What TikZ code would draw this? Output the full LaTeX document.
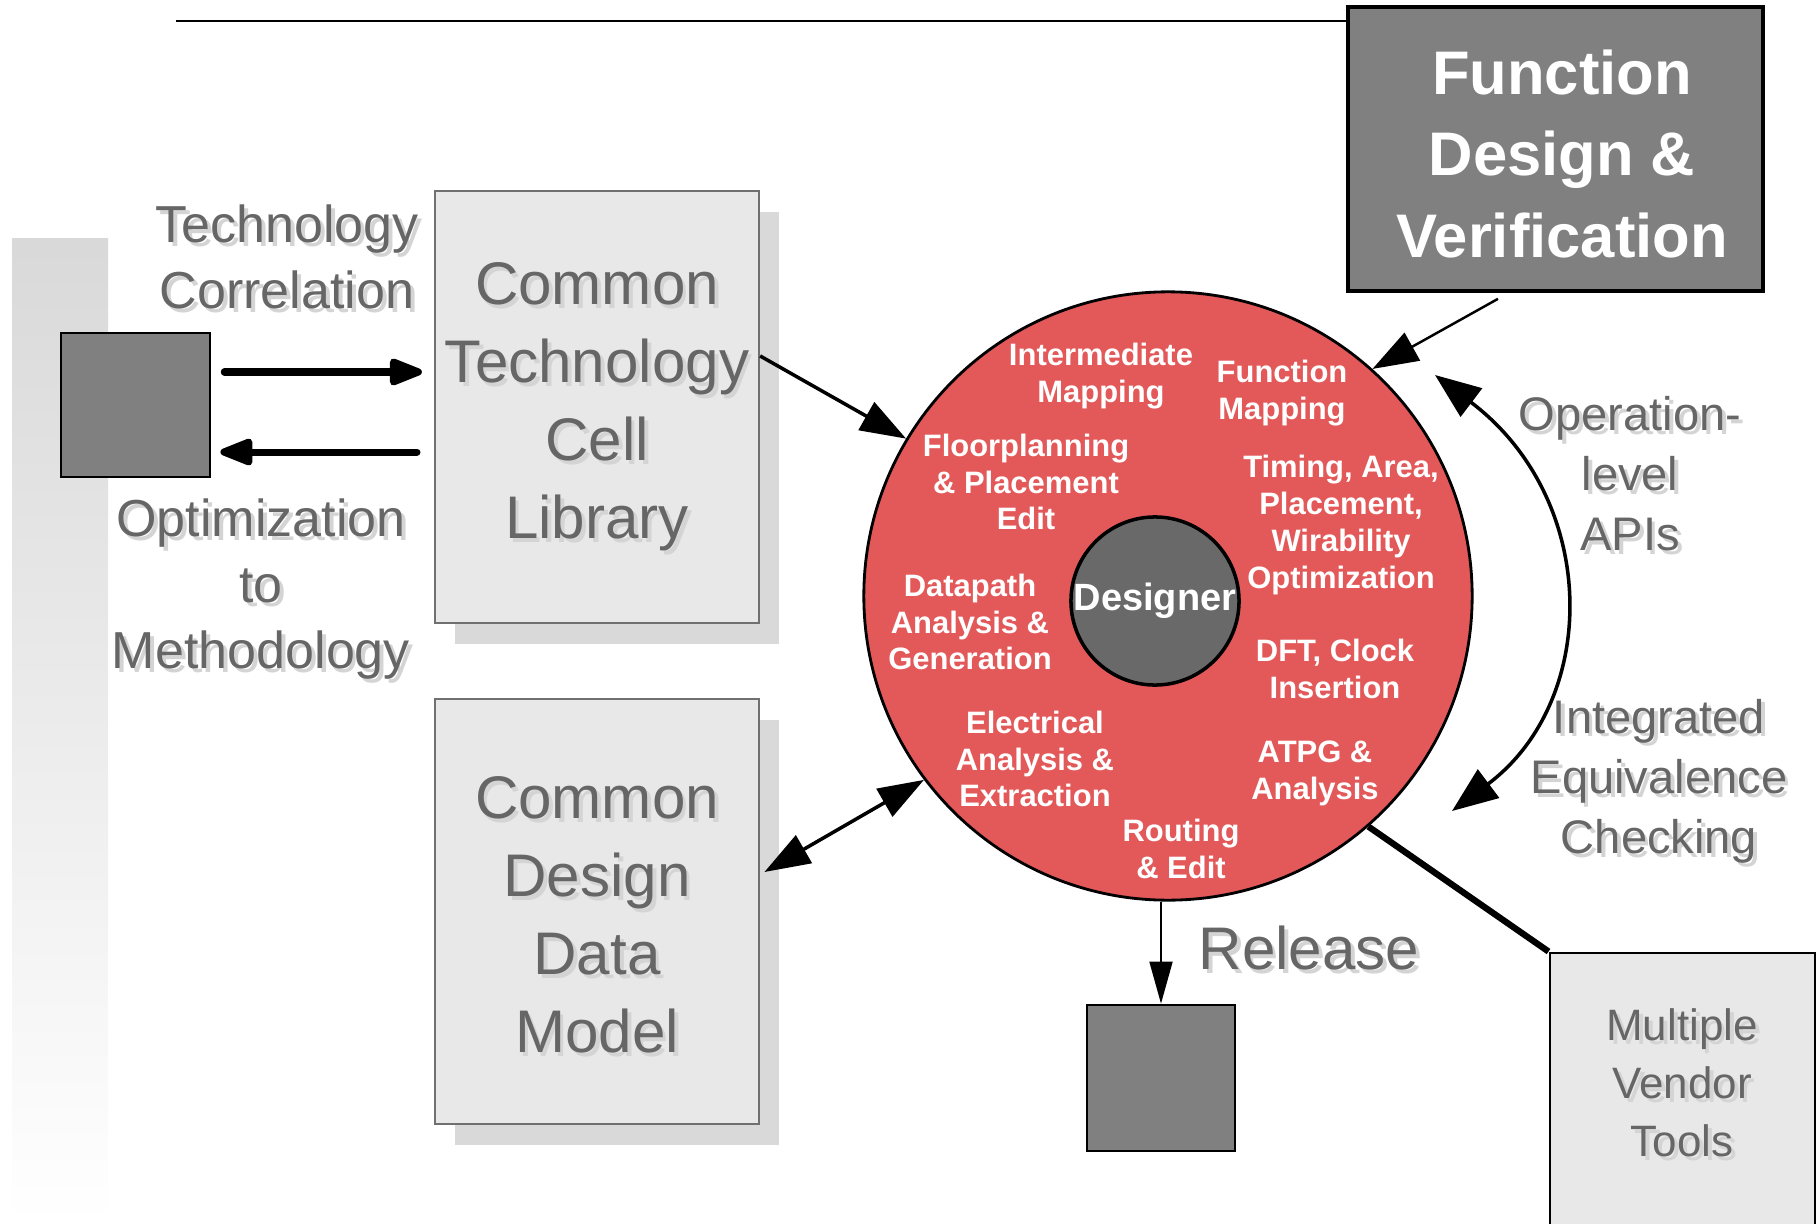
\documentclass[tikz,border=0pt]{standalone}
\usepackage{fontspec}
\setmainfont{Liberation Sans}
\usetikzlibrary{arrows.meta,shadows}

\definecolor{wheelred}{RGB}{227,89,89}
\definecolor{darkbox}{RGB}{128,128,128}
\definecolor{designgray}{RGB}{105,105,105}
\definecolor{boxfill}{RGB}{232,232,232}
\definecolor{boxshadow}{RGB}{217,217,217}
\definecolor{boxline}{RGB}{112,112,112}
\definecolor{txtgray}{RGB}{102,102,102}
\definecolor{txtshadow}{RGB}{212,212,212}

% gray text with a light offset copy behind it
\newcommand{\shadowlabel}[4]{%
  \node[glabel,#3,text=txtshadow,xshift=1.1pt,yshift=-1.1pt] at (#2) {#4};
  \node[glabel,#3] (#1) at (#2) {#4};}

\begin{document}
\begin{tikzpicture}[x=0.01cm, y=-0.01cm,
    glabel/.style={text=txtgray, align=center, inner sep=0pt},
    wlabel/.style={text=white, align=center, inner sep=0pt, font=\bfseries\fontsize{8.8}{10.5}\selectfont},
    midfont/.style={font=\fontsize{14.8}{18.8}\selectfont},
    bigfont/.style={font=\fontsize{17.1}{22.2}\selectfont},
    apifont/.style={font=\fontsize{13.4}{17.1}\selectfont},
    toolfont/.style={font=\fontsize{12.5}{16.5}\selectfont},
    libbox/.style={draw=boxline, line width=0.6pt, fill=boxfill, inner sep=0pt,
      drop shadow={shadow xshift=2mm, shadow yshift=-2.1mm, fill=boxshadow, opacity=1}},
    blockbox/.style={draw, line width=0.7pt, fill=darkbox, inner sep=0pt},
    fatarrow/.style={line width=2pt, line cap=round, -{Triangle[length=11pt,width=8pt,round]}},
    thinarrow/.style={line width=0.7pt, -{Triangle[length=13pt,width=9pt]}},
    apiarrow/.style={line width=1pt, {Triangle[length=13pt,width=10pt]}-{Triangle[length=13pt,width=10pt]}}
  ]
  \useasboundingbox (0,0) rectangle (1817,1224);

  % fading bar on the left
  \shade[top color=gray!30, bottom color=white] (12,238) rectangle (108,1224);

  % boxes
  \node[blockbox, minimum width=1.49cm, minimum height=1.44cm] (sq) at (135.5,405) {};
  \node[libbox, minimum width=3.24cm, minimum height=4.32cm] (ctcl) at (597,407) {};
  \node[libbox, minimum width=3.24cm, minimum height=4.25cm] (cddm) at (597,911.5) {};
  \node[blockbox, line width=1pt, minimum width=4.15cm, minimum height=2.84cm] (fdv) at (1555.5,149) {};
  \node[text=white, align=center, inner sep=0pt, font=\bfseries\fontsize{17.5}{23.2}\selectfont]
    (fdvtxt) at (1562,154) {Function\\Design \&\\Verification};
  \node[blockbox, minimum width=1.48cm, minimum height=1.46cm] (rel) at (1161,1078) {};
  \node[draw, line width=0.8pt, fill=boxfill, inner sep=0pt,
    minimum width=2.65cm, minimum height=2.77cm] (mvt) at (1682.5,1091.5) {};

  % the design wheel
  \node[circle, draw, line width=0.8pt, fill=wheelred, minimum size=6.08cm, inner sep=0pt] (wheel) at (1168,596) {};
  \node[circle, draw, line width=1pt, fill=designgray, minimum size=1.68cm, inner sep=0pt,
    text=white, font=\bfseries\fontsize{10.8}{13}\selectfont] (designer) at (1155,601) {Designer};

  \node[wlabel] (intmap) at (1101,376) {Intermediate\\Mapping};
  \node[wlabel] (funmap) at (1282,393) {Function\\Mapping};
  \node[wlabel] (floor) at (1026,482) {Floorplanning\\\& Placement\\Edit};
  \node[wlabel] (timing) at (1341,525) {Timing, Area,\\Placement,\\Wirability\\Optimization};
  \node[wlabel] (datapath) at (970,622) {Datapath\\Analysis \&\\Generation};
  \node[wlabel] (dft) at (1335,669) {DFT, Clock\\Insertion};
  \node[wlabel] (elec) at (1035,759) {Electrical\\Analysis \&\\Extraction};
  \node[wlabel] (atpg) at (1315,773) {ATPG \&\\Analysis};
  \node[wlabel] (routing) at (1181,849) {Routing\\\& Edit};

  % gray labels
  \shadowlabel{techcorr}{287,257}{midfont}{Technology\\Correlation}
  \shadowlabel{optim}{261,589}{midfont}{Optimization\\to\\Methodology}
  \shadowlabel{ctcltxt}{597,407}{bigfont}{Common\\Technology\\Cell\\Library}
  \shadowlabel{cddmtxt}{597,915}{bigfont}{Common\\Design\\Data\\Model}
  \shadowlabel{reltxt}{1309,948}{bigfont}{Release}
  \shadowlabel{opapi}{1630,474}{apifont}{Operation-\\level\\APIs}
  \shadowlabel{iec}{1659,781}{apifont}{Integrated\\Equivalence\\Checking}
  \shadowlabel{mvttxt}{1682,1083}{toolfont}{Multiple\\Vendor\\Tools}

  % connectors
  \coordinate (ltop) at (176,21);
  \draw[line width=0.8pt] (ltop) -- (ltop -| fdv.west);

  \coordinate (tcin) at ([yshift=3.3mm]sq.east);
  \coordinate (tcout) at ([yshift=-4.7mm]sq.east);
  \draw[fatarrow, shorten <=3.7pt, shorten >=3.4pt] (tcin) -- (tcin -| ctcl.west);
  \draw[fatarrow, shorten <=4.8pt, shorten >=2.6pt] (tcout -| ctcl.west) -- (tcout);

  \draw[thinarrow, line width=1pt] ([yshift=5.1mm]ctcl.east) -- (wheel.149);
  \draw[thinarrow] ([xshift=-5.75mm,yshift=-0.6mm]fdv.south) -- (wheel.48);
  \draw[thinarrow, line width=1pt, {Triangle[length=13pt,width=9pt]}-{Triangle[length=13pt,width=9pt]},
    shorten <=1.4pt] ([yshift=3.7mm]cddm.east) -- (wheel.217);

  \coordinate (apitop) at (1435,375);
  \coordinate (apibot) at (1452,811);
  \draw[apiarrow] (apitop) .. controls (1600,500) and (1600,700) .. (apibot);

  \draw[line width=0.7pt, -{Triangle[length=12pt,width=6.5pt]}] (rel.north |- wheel.south) -- (rel.north);
  \draw[line width=1.8pt] (wheel.-49) -- (mvt.north west);
\end{tikzpicture}
\end{document}
